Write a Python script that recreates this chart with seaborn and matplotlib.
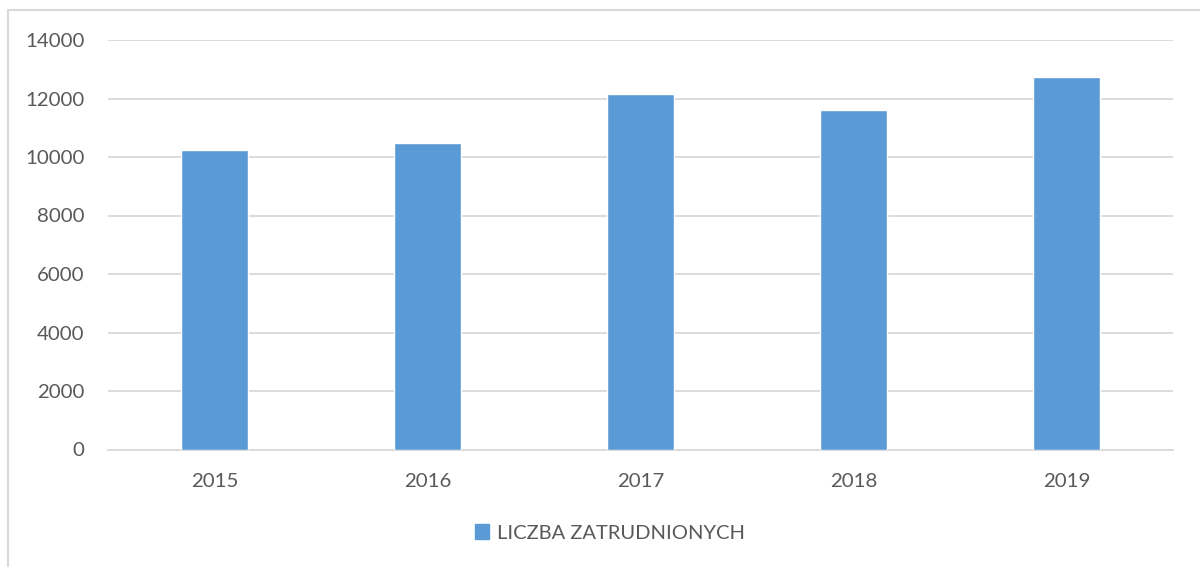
import matplotlib
matplotlib.use("Agg")
import matplotlib.pyplot as plt
import matplotlib.patches as mpatches
import seaborn as sns
import pandas as pd

# data
years = ["2015", "2016", "2017", "2018", "2019"]
employees = [10230, 10490, 12150, 11610, 12730]
series_name = "LICZBA ZATRUDNIONYCH"

df = pd.DataFrame({"rok": years, "liczba": employees})

bar_color = "#5B9BD5"
text_color = "#595959"
grid_color = "#D9D9D9"

sns.set_style("white")
plt.rcParams["font.family"] = ["Lato", "DejaVu Sans"]

fig = plt.figure(figsize=(12, 5.67), dpi=100)
ax = fig.add_axes([108 / 1200, 1 - 449.5 / 567, (1173 - 108) / 1200, (449.5 - 40) / 567])

sns.barplot(data=df, x="rok", y="liczba", color=bar_color, width=0.315,
            saturation=1, ax=ax, zorder=3)

ax.set_ylim(0, 14000)
ax.set_xlim(-0.5, len(years) - 0.5)
ax.set_yticks(range(0, 14001, 2000))
ax.yaxis.grid(True, color=grid_color, linewidth=1.3, zorder=0)
ax.set_axisbelow(True)
for side in ["top", "right", "left"]:
    ax.spines[side].set_visible(False)
ax.spines["bottom"].set_color(grid_color)
ax.spines["bottom"].set_linewidth(1.3)
ax.tick_params(axis="both", length=0, labelsize=14.7, colors=text_color)
ax.tick_params(axis="y", pad=17)
ax.tick_params(axis="x", pad=17)
ax.set_xlabel("")
ax.set_ylabel("")

# legend under the chart
handle = mpatches.Patch(color=bar_color, label=series_name)
leg = fig.legend(handles=[handle], loc="center", bbox_to_anchor=(0.508, 0.06),
                 frameon=False, fontsize=14.5, handlelength=0.7, handleheight=0.7,
                 handletextpad=0.4)
for t in leg.get_texts():
    t.set_color(text_color)

# light outer chart frame
frame = mpatches.Rectangle((8 / 1200, -0.1), 1.2, 1 - 10 / 567 + 0.1,
                           transform=fig.transFigure, fill=False,
                           edgecolor=grid_color, linewidth=1.5)
fig.patches.append(frame)

fig.savefig("out.png", dpi=100)
